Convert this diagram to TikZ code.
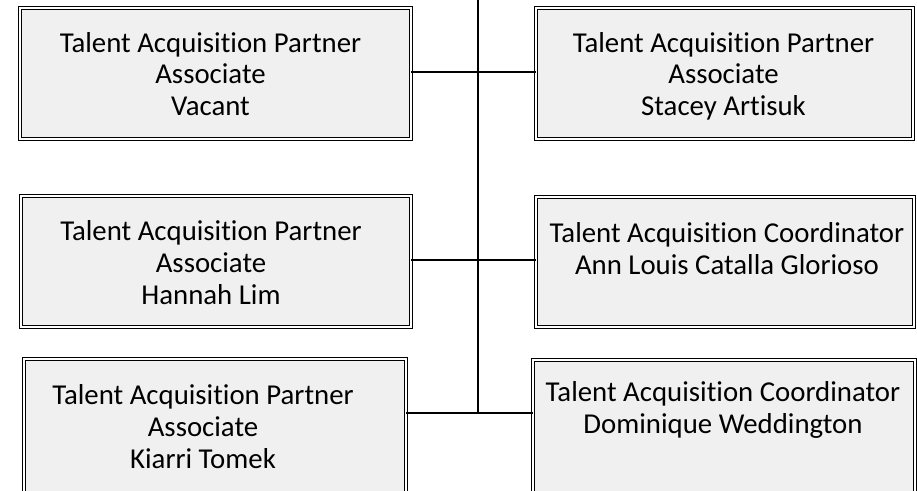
\documentclass[tikz,border=0pt]{standalone}
\usepackage{fontspec}
\setmainfont[Ligatures=NoCommon]{Carlito}
\begin{document}
\begin{tikzpicture}[x=1pt,y=-1pt,
  box/.style={draw=black, line width=0.7pt, double=white, double distance=2.2pt,
    fill=boxgray, rectangle, inner sep=0pt, outer sep=0pt},
  txt/.style={anchor=north, align=center, inner sep=0pt,
    font=\fontsize{28.8}{31.7}\selectfont},
  link/.style={draw=black, line width=2pt}]
\definecolor{boxgray}{HTML}{F0F0F0}
\useasboundingbox (0,0) rectangle (917,490);
\clip (0,0) rectangle (917,490);
% boxes
\node[box, minimum width=391pt, minimum height=131pt] (b1) at (215.5,73.5) {};
\node[box, minimum width=377pt, minimum height=131pt] (b2) at (724.5,73.5) {};
\node[box, minimum width=390pt, minimum height=131pt] (b3) at (216,261.5) {};
\node[box, minimum width=378pt, minimum height=130pt] (b4) at (725,262) {};
\node[box, minimum width=382pt, minimum height=134pt] (b5) at (215,426) {};
\node[box, minimum width=382pt, minimum height=133pt] (b6) at (724,426.5) {};
% texts
\node[txt] (t1) at ([xshift=-5pt,yshift=-24pt]b1.north) {Talent Acquisition Partner\\Associate\\Vacant};
\node[txt] (t2) at ([xshift=-1pt,yshift=-24pt]b2.north) {Talent Acquisition Partner\\Associate\\Stacey Artisuk};
\node[txt] (t3) at ([xshift=-5pt,yshift=-24.5pt]b3.north) {Talent Acquisition Partner\\Associate\\Hannah Lim};
\node[txt] (t4) at ([xshift=2pt,yshift=-25.5pt]b4.north) {Talent Acquisition Coordinator\\Ann Louis Catalla Glorioso};
\node[txt] (t5) at ([xshift=-12pt,yshift=-25.5pt]b5.north) {Talent Acquisition Partner\\Associate\\Kiarri Tomek};
\node[txt] (t6) at ([xshift=-1pt,yshift=-21.5pt]b6.north) {Talent Acquisition Coordinator\\Dominique Weddington};
% spine
\coordinate (top) at (478,-5);
\coordinate (bot) at (478,414);
\draw[link] (top) -- (bot);
\draw[link] ([yshift=1.5pt]b1.east) -- ([yshift=1.5pt]b1.east -| top);
\draw[link] ([yshift=1.5pt]b2.west) -- ([yshift=1.5pt]b2.west -| top);
\draw[link] ([yshift=1.5pt]b3.east) -- ([yshift=1.5pt]b3.east -| top);
\draw[link] ([yshift=2pt]b4.west) -- ([yshift=2pt]b4.west -| top);
\draw[link] ([yshift=13pt]b5.east) -- ([yshift=13pt]b5.east -| top);
\draw[link] ([yshift=13.5pt]b6.west) -- ([yshift=13.5pt]b6.west -| top);
\end{tikzpicture}
\end{document}
